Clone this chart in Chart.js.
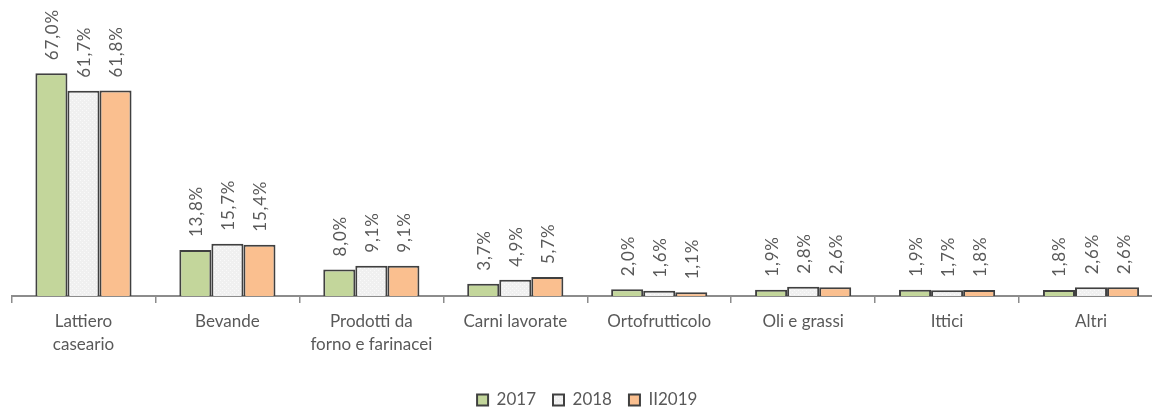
<!DOCTYPE html>
<html>
<head>
<meta charset="utf-8">
<script src="https://cdn.jsdelivr.net/npm/chart.js@4.4.1/dist/chart.umd.min.js"></script>
<style>
  html, body { margin: 0; padding: 0; background: #ffffff; overflow: hidden; }
  #wrap { width: 1152px; height: 408px; position: relative; overflow: hidden; }
  #c { display: block; }
</style>
</head>
<body>
<div id="wrap"><canvas id="c" width="1163" height="408" style="width:1163px;height:408px"></canvas></div>
<script>
const categories = [
  ["Lattiero", "caseario"],
  "Bevande",
  ["Prodotti da", "forno e farinacei"],
  "Carni lavorate",
  "Ortofrutticolo",
  "Oli e grassi",
  "Ittici",
  "Altri"
];
const seriesNames = ["2017", "2018", "II2019"];
const values2017 = [67.0, 13.8, 8.0, 3.7, 2.0, 1.9, 1.9, 1.8];
const values2018 = [61.7, 15.7, 9.1, 4.9, 1.6, 2.8, 1.7, 2.6];
const valuesII2019 = [61.8, 15.4, 9.1, 5.7, 1.1, 2.6, 1.8, 2.6];

const FONT = "Lato, 'Open Sans', sans-serif";
const TEXT = "#595959";
const EDGE = "#404040";

function dotPattern() {
  const p = document.createElement('canvas');
  p.width = 4; p.height = 4;
  const g = p.getContext('2d');
  g.fillStyle = '#F0F0F0';
  g.fillRect(0, 0, 4, 4);
  g.fillStyle = '#FAFAFA';
  g.fillRect(0, 0, 1, 1);
  g.fillRect(2, 2, 1, 1);
  return document.getElementById('c').getContext('2d').createPattern(p, 'repeat');
}

const labelPlugin = {
  id: 'rotLabels',
  afterDatasetsDraw(chart) {
    const ctx = chart.ctx;
    ctx.save();
    ctx.font = "17px " + FONT;
    ctx.fillStyle = TEXT;
    ctx.textAlign = 'left';
    ctx.textBaseline = 'middle';
    try { ctx.letterSpacing = '0.8px'; } catch (e) {}
    chart.data.datasets.forEach((ds, i) => {
      const meta = chart.getDatasetMeta(i);
      meta.data.forEach((bar, j) => {
        const v = ds.data[j];
        const txt = v.toFixed(1).replace('.', ',') + '%';
        ctx.save();
        ctx.translate(bar.x + 1, bar.y - 13);
        ctx.rotate(-Math.PI / 2);
        ctx.fillText(txt, 0, 0);
        ctx.restore();
      });
    });
    ctx.restore();
  }
};

const common = { borderColor: EDGE, borderWidth: 2, borderSkipped: 'bottom' };

new Chart(document.getElementById('c'), {
  type: 'bar',
  data: {
    labels: categories,
    datasets: [
      Object.assign({ label: seriesNames[0], data: values2017, backgroundColor: '#C3D69B' }, common),
      Object.assign({ label: seriesNames[1], data: values2018, backgroundColor: dotPattern() }, common),
      Object.assign({ label: seriesNames[2], data: valuesII2019, backgroundColor: '#FABF8F' }, common)
    ]
  },
  options: {
    responsive: false,
    animation: false,
    devicePixelRatio: 1,
    layout: { padding: { left: 11.5, right: 0, top: 0, bottom: -10.5 } },
    datasets: { bar: { categoryPercentage: 0.668, barPercentage: 1.0 } },
    plugins: {
      legend: {
        position: 'bottom',
        labels: {
          font: { family: FONT, size: 17 },
          color: TEXT,
          boxWidth: 11,
          boxHeight: 11,
          padding: 17
        }
      },
      tooltip: { enabled: false },
      title: { display: false }
    },
    scales: {
      x: {
        offset: true,
        grid: {
          offset: true,
          drawOnChartArea: false,
          drawTicks: true,
          tickLength: 7,
          color: '#8C8C8C',
          lineWidth: 1.5
        },
        border: { display: true, color: '#8C8C8C', width: 2 },
        ticks: {
          font: { family: FONT, size: 17, lineHeight: 1.35 },
          color: TEXT,
          padding: 7,
          maxRotation: 0,
          autoSkip: false
        },
        afterFit(scale) { scale.height = 78.5; }
      },
      y: {
        display: false,
        min: 0,
        max: 89
      }
    }
  },
  plugins: [labelPlugin]
});
</script>
</body>
</html>
